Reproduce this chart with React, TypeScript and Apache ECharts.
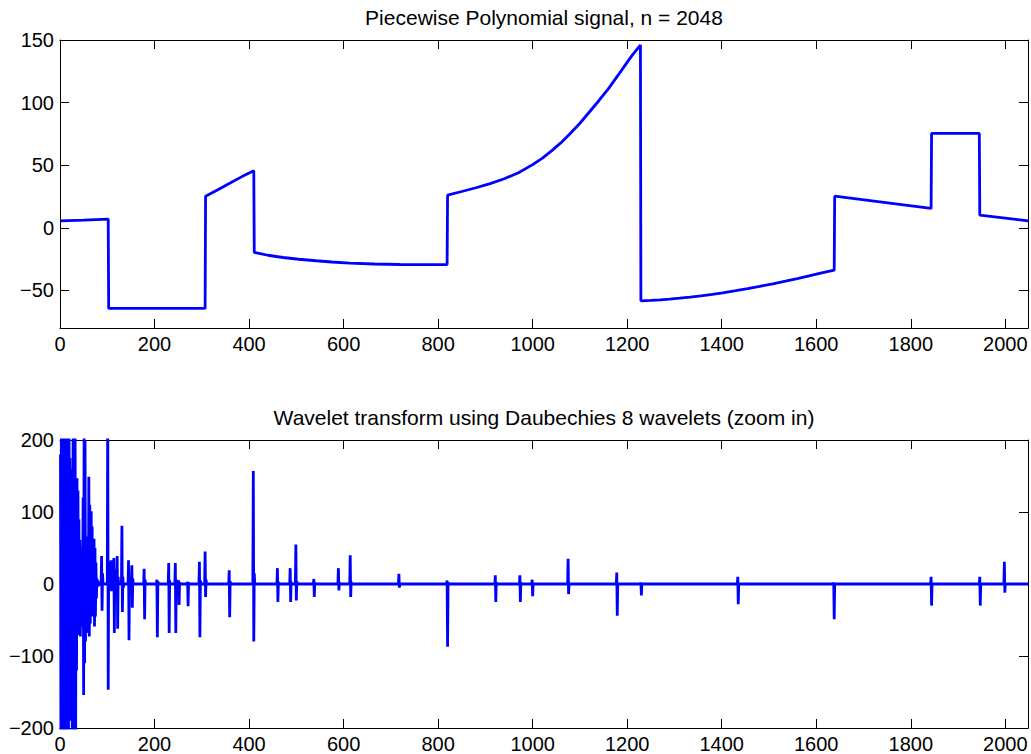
import React, { useEffect, useRef } from 'react';
import * as echarts from 'echarts';

const N = 2048;
const topTitle = 'Piecewise Polynomial signal, n = 2048';
const bottomTitle = 'Wavelet transform using Daubechies 8 wavelets (zoom in)';

// Top signal: sample positions and values
const signalX = [
  1, 50, 102, 103, 200, 307, 308, 333, 359, 385, 410, 411, 440, 472, 505, 542, 575, 613, 665, 719, 770, 819,
  820, 850, 880, 910, 940, 970, 1000, 1020, 1040, 1060, 1080, 1100, 1120, 1140, 1160, 1180, 1195, 1210, 1228,
  1229, 1250, 1270, 1290, 1311, 1333, 1356, 1380, 1402, 1430, 1455, 1480, 1508, 1535, 1560, 1585, 1607, 1638,
  1639, 1843, 1844, 1945, 1946, 2048,
];
const signalY = [
  5.6, 6.2, 7.0, -64.4, -64.4, -64.4, 25.3, 30.2, 35.6, 40.9, 45.5, -19.7, -21.9, -23.7, -25.1, -26.3, -27.3, -28.2, -28.9, -29.3, -29.4, -29.3,
  26.1, 29.0, 32.0, 35.3, 39.2, 44.0, 50.5, 55.5, 61.5, 68.0, 75.5, 83.5, 92.5, 101.5, 111, 121.5, 129.5, 137.5, 146,
  -58.3, -58.0, -57.5, -56.9, -56.2, -55.3, -54.3, -53.1, -51.9, -50.2, -48.6, -46.8, -44.7, -42.6, -40.5, -38.3, -36.3, -33.8,
  25.3, 15.5, 75.4, 75.4, 10.1, 5.6,
];

// Wavelet coefficients: coarse block (index 1..85)
const coarseStart = 1;
const coarseVals = [
  180, -260, 320, -240, 260, -300, 230, -220, 280, -250,
  150, -210, 240, -180, 90, -230, 260, -240, 300, -150,
  175, -190, 120, -170, 160, -230, 80, 250, -260, 300,
  -200, 220, -250, 60, -120, 147, -71, 130, -60, 90,
  -70, 61, -73, 45, -60, 50, -40, 20, 120, -154,
  230, -110, 200, -80, 66, -68, 40, -50, 30, -40,
  149, -73, 110, -55, 60, 101, -45, 80, -30, 40,
  -20, 63, -59, 50, -45, 30, -20, 8, -4, 5,
  -3, 3, -2, 2, 0,
];

// Isolated spike groups: first index and consecutive coefficient values
const spikeStart = [
  88, 101, 108, 114, 121, 131, 145, 152, 178, 205, 230, 244, 251, 270, 295, 307, 358, 409,
  460, 487, 499, 537, 589, 614, 717, 819, 921, 973, 999,
  1075, 1178, 1229, 1434, 1637, 1843, 1946, 1998,
];
const spikeVals = [
  [39, -37, 15], [250, -147, 30], [33, -10], [36, -68, 20], [39, -62, 10], [81, -39, 10, -5],
  [33, -78, 12], [26, -33, 8], [21, -49, 6], [6, -74, 4], [29, -68, 5], [29, -68, 6],
  [5, -29, 2], [3, -31, 2], [31, -74, 5], [45, -18, 6], [19, -46, 4], [157, -80, 15],
  [22, -25, 3], [22, -25, 3], [55, -23, 4], [7, -18, 2], [22, -9, 2], [40, -18, 3],
  [14, -5], [5, -87, 2], [12, -25, 2], [12, -25, 2], [6, -17],
  [35, -14], [16, -44], [2, -16], [10, -28], [2, -49], [10, -30], [10, -30], [31, -12],
];

const FONT = '"Liberation Sans", Arial, Helvetica, sans-serif';
const fmt = (v: number) => String(v).replace('-', '\u2212');

function buildWave(): [number, number][] {
  const pts: [number, number][] = [];
  coarseVals.forEach((v, i) => pts.push([coarseStart + i, v]));
  let last = coarseStart + coarseVals.length - 1;
  spikeStart.forEach((s, k) => {
    const vals = spikeVals[k];
    if (s - 1 > last) pts.push([s - 1, 0]);
    vals.forEach((v, j) => pts.push([s + j, v]));
    last = s + vals.length - 1;
    pts.push([last + 1, 0]);
    last = last + 1;
  });
  pts.push([N, 0]);
  return pts;
}

export default function App() {
  const ref = useRef<HTMLDivElement>(null);
  useEffect(() => {
    if (!ref.current) return;
    const chart = echarts.init(ref.current, undefined, { renderer: 'svg' });
    const axisLine = { show: true, onZero: false, lineStyle: { color: '#000', width: 1 } };
    const axisTick = { show: true, inside: true, length: 9, lineStyle: { color: '#000', width: 1 } };
    const label = { color: '#000', fontSize: 20, fontFamily: FONT, formatter: fmt };
    const noLabel = { show: false };
    const split = { show: false };
    const xAx = (grid: number, pos: string, showLabel: boolean) => ({
      type: 'value', gridIndex: grid, position: pos, min: 0, max: N, interval: 200,
      axisLine, axisTick, splitLine: split,
      axisLabel: showLabel ? { ...label, margin: 6, showMaxLabel: false } : noLabel,
    });
    const yTop = (pos: string, showLabel: boolean) => ({
      type: 'value', gridIndex: 0, position: pos, min: -80, max: 150, splitNumber: 5,
      axisLine, axisTick, splitLine: split,
      axisLabel: showLabel ? { ...label, margin: 6, showMinLabel: false } : noLabel,
    });
    const yBot = (pos: string, showLabel: boolean) => ({
      type: 'value', gridIndex: 1, position: pos, min: -200, max: 200, interval: 100,
      axisLine, axisTick, splitLine: split,
      axisLabel: showLabel ? { ...label, margin: 6 } : noLabel,
    });
    const lineStyle = { color: '#0000ff', width: 2.8 };
    chart.setOption({
      animation: false,
      backgroundColor: '#fff',
      grid: [
        { left: 60, right: 3, top: 40, height: 288, containLabel: false, outerBoundsMode: 'none' },
        { left: 60, right: 3, top: 440, height: 288, containLabel: false, outerBoundsMode: 'none' },
      ],
      xAxis: [xAx(0, 'bottom', true), xAx(0, 'top', false), xAx(1, 'bottom', true), xAx(1, 'top', false)],
      yAxis: [yTop('left', true), yTop('right', false), yBot('left', true), yBot('right', false)],
      graphic: [
        { type: 'text', x: 544, y: 17, style: { text: topTitle, fill: '#000', fontSize: 21, fontFamily: FONT, align: 'center', verticalAlign: 'middle' } },
        { type: 'text', x: 544, y: 417, style: { text: bottomTitle, fill: '#000', fontSize: 21, fontFamily: FONT, align: 'center', verticalAlign: 'middle' } },
      ],
      series: [
        {
          type: 'line', xAxisIndex: 0, yAxisIndex: 0, symbol: 'none', showSymbol: false,
          data: signalX.map((x, i) => [x, signalY[i]]), lineStyle, clip: true,
        },
        {
          type: 'line', xAxisIndex: 2, yAxisIndex: 2, symbol: 'none', showSymbol: false,
          data: buildWave(), lineStyle, clip: true,
        },
      ],
    });
    return () => chart.dispose();
  }, []);
  return <div ref={ref} style={{ position: 'fixed', left: 0, top: 0, width: 1031, height: 754, background: '#fff' }} />;
}
